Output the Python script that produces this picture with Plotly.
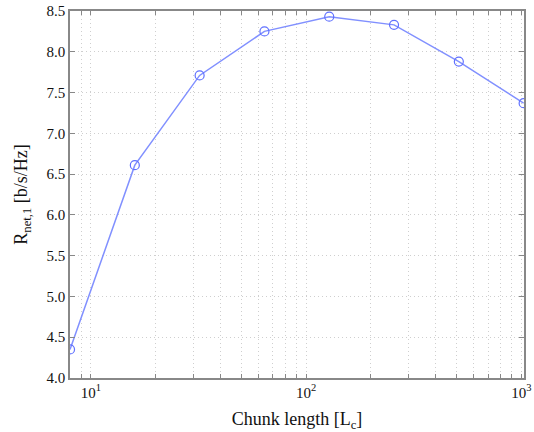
import plotly.graph_objects as go

chunk_length = [8, 16, 32, 64, 128, 256, 512, 1024]
rate = [4.35, 6.61, 7.71, 8.25, 8.43, 8.33, 7.88, 7.37]
x_tick_vals = [m * d for d in [1, 10, 100] for m in range(1, 10)] + [1000]
x_tick_text = ["10<sup>1</sup>" if v == 10 else "10<sup>2</sup>" if v == 100 else "10<sup>3</sup>" if v == 1000 else "" for v in x_tick_vals]
y_tick_vals = [4.0, 4.5, 5.0, 5.5, 6.0, 6.5, 7.0, 7.5, 8.0, 8.5]

fig = go.Figure()
fig.add_trace(go.Scatter(
    x=chunk_length, y=rate, mode="lines+markers",
    line=dict(color="#8190ff", width=1.5),
    marker=dict(symbol="circle-open", size=9, color="#5f70ff", line=dict(width=1.2)),
))

font = dict(family="Times New Roman, Liberation Serif, serif", size=15, color="#111")
title_font = dict(family="Times New Roman, Liberation Serif, serif", size=18, color="#111")
fig.update_layout(
    width=534, height=432,
    margin=dict(l=70, r=10, t=11, b=54),
    paper_bgcolor="white", plot_bgcolor="white",
    showlegend=False,
    font=font,
)
fig.update_xaxes(
    type="log", range=[0.903, 3.012],
    tickvals=x_tick_vals, ticktext=x_tick_text,
    showgrid=True, gridcolor="#cfcfcf", griddash="1px,3px", gridwidth=1,
    showline=True, linecolor="#888", linewidth=1.5, mirror="ticks",
    ticks="inside", ticklen=4, tickcolor="#888",
    zeroline=False, automargin=False,
    title=dict(text="Chunk length [L<sub>c</sub>]", font=title_font, standoff=18),
)
fig.update_yaxes(
    range=[4.0, 8.5], tickvals=y_tick_vals, tickformat=".1f",
    showgrid=True, gridcolor="#cfcfcf", griddash="1px,3px", gridwidth=1,
    showline=True, linecolor="#888", linewidth=1.5, mirror="ticks",
    ticks="inside", ticklen=5, tickcolor="#888",
    zeroline=False, automargin=False,
    title=dict(text="R<sub>net,1</sub> [b/s/Hz]", font=title_font, standoff=14),
)
fig.write_html("out.html")
